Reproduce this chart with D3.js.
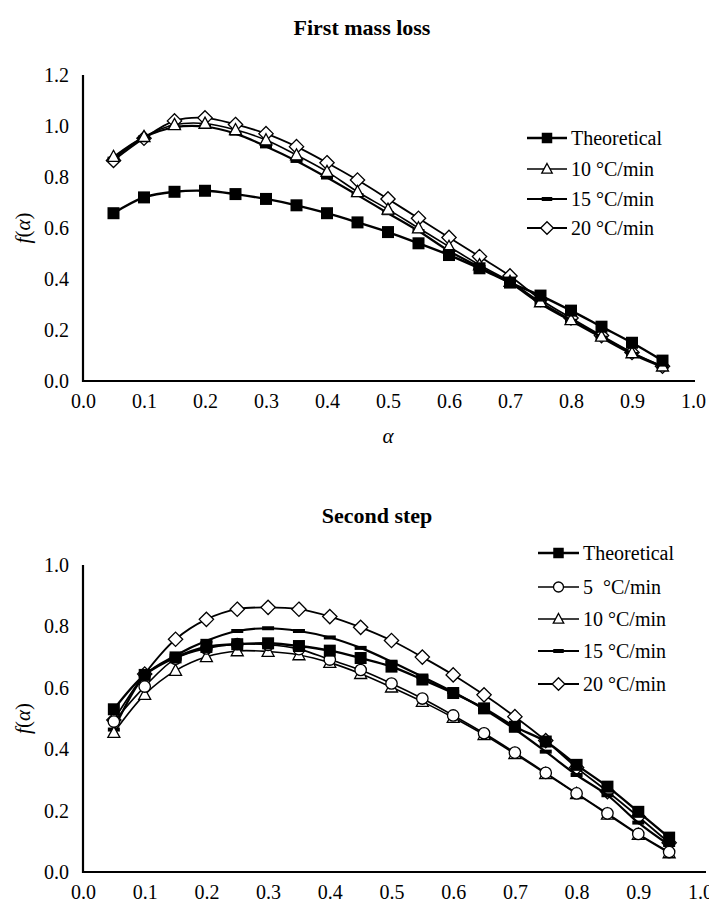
<!DOCTYPE html>
<html>
<head>
<meta charset="utf-8">
<script src="https://cdn.jsdelivr.net/npm/d3@7"></script>
<style>
  html, body { margin: 0; padding: 0; background: #fff; }
  svg { display: block; }
</style>
</head>
<body>
<svg id="fig" width="709" height="907"></svg>
<script>
const SERIF = '"Liberation Serif"';

// Conversion fraction α sampled at 0.05 steps
const alpha = [0.05, 0.10, 0.15, 0.20, 0.25, 0.30, 0.35, 0.40, 0.45, 0.50,
               0.55, 0.60, 0.65, 0.70, 0.75, 0.80, 0.85, 0.90, 0.95];

// First mass loss: f(α)
const firstTheoretical = [0.658, 0.720, 0.742, 0.746, 0.733, 0.714, 0.689, 0.658, 0.622, 0.584,
                          0.540, 0.494, 0.442, 0.386, 0.335, 0.276, 0.213, 0.150, 0.080];
const first10 = [0.880, 0.958, 1.005, 1.010, 0.985, 0.945, 0.886, 0.821, 0.742, 0.673,
                 0.600, 0.527, 0.455, 0.390, 0.310, 0.240, 0.175, 0.110, 0.058];
const first15 = [0.872, 0.955, 0.995, 0.998, 0.970, 0.920, 0.863, 0.798, 0.729, 0.658,
                 0.588, 0.510, 0.447, 0.385, 0.303, 0.236, 0.170, 0.106, 0.055];
const first20 = [0.865, 0.952, 1.020, 1.032, 1.006, 0.970, 0.919, 0.856, 0.788, 0.714,
                 0.638, 0.563, 0.488, 0.412, 0.320, 0.247, 0.178, 0.112, 0.058];

// Second step: f(α)
const secondTheoretical = [0.530, 0.642, 0.699, 0.733, 0.742, 0.745, 0.736, 0.721, 0.697, 0.669,
                           0.627, 0.583, 0.533, 0.473, 0.425, 0.349, 0.278, 0.196, 0.112];
const second5 = [0.490, 0.604, 0.695, 0.728, 0.742, 0.740, 0.726, 0.692, 0.658, 0.614,
                 0.565, 0.510, 0.452, 0.389, 0.323, 0.256, 0.191, 0.124, 0.065];
const second10 = [0.454, 0.578, 0.656, 0.701, 0.720, 0.718, 0.707, 0.682, 0.646, 0.602,
                  0.555, 0.503, 0.447, 0.385, 0.320, 0.255, 0.188, 0.122, 0.062];
const second15 = [0.464, 0.640, 0.705, 0.753, 0.785, 0.794, 0.785, 0.764, 0.730, 0.685,
                  0.636, 0.586, 0.530, 0.465, 0.392, 0.316, 0.250, 0.161, 0.088];
const second20 = [0.495, 0.645, 0.758, 0.823, 0.856, 0.862, 0.856, 0.832, 0.797, 0.754,
                  0.700, 0.642, 0.577, 0.506, 0.428, 0.340, 0.262, 0.180, 0.095];

// Axis tick values
const xTicks = [0.0, 0.1, 0.2, 0.3, 0.4, 0.5, 0.6, 0.7, 0.8, 0.9, 1.0];
const yTicksFirst = [0.0, 0.2, 0.4, 0.6, 0.8, 1.0, 1.2];
const yTicksSecond = [0.0, 0.2, 0.4, 0.6, 0.8, 1.0];

const svg = d3.select("#fig");

// Marker painter: shape keyed by name, drawn centred at (0,0)
function paintMarker(g, shape, s) {
  const h = s / 2;
  if (shape === "square") {
    g.append("rect").attr("x", -h).attr("y", -h).attr("width", s).attr("height", s)
      .attr("fill", "#000");
  } else if (shape === "triangle") {
    g.append("path").attr("d", `M0,${-h * 1.05}L${h},${h * 0.8}L${-h},${h * 0.8}Z`)
      .attr("fill", "#fff").attr("stroke", "#000").attr("stroke-width", 1.3);
  } else if (shape === "diamond") {
    g.append("path").attr("d", `M0,${-h * 1.1}L${h * 1.1},0L0,${h * 1.1}L${-h * 1.1},0Z`)
      .attr("fill", "#fff").attr("stroke", "#000").attr("stroke-width", 1.3);
  } else if (shape === "circle") {
    g.append("circle").attr("r", h * 0.95)
      .attr("fill", "#fff").attr("stroke", "#000").attr("stroke-width", 1.3);
  } else if (shape === "dash") {
    g.append("rect").attr("x", -h).attr("y", -2).attr("width", s).attr("height", 4)
      .attr("fill", "#000");
  }
}

function drawPanel(cfg) {
  const x = d3.scaleLinear().domain([0, 1]).range([cfg.left, cfg.right]);
  const y = d3.scaleLinear().domain([0, cfg.yMax]).range([cfg.bottom, cfg.top]);
  const g = svg.append("g");

  // Title
  g.append("text").attr("x", cfg.titleX).attr("y", cfg.titleY)
    .attr("text-anchor", "middle").attr("font-weight", "bold")
    .style("font-family", SERIF).style("font-size", "22px").text(cfg.title);

  // Axes (lines only, no tick marks)
  const xAxis = d3.axisBottom(x).tickValues(xTicks).tickFormat(d3.format(".1f"))
    .tickSize(0).tickPadding(13);
  const yAxis = d3.axisLeft(y).tickValues(cfg.yTicks).tickFormat(d3.format(".1f"))
    .tickSize(0).tickPadding(14);
  const gx = g.append("g").attr("transform", `translate(0,${cfg.bottom})`).call(xAxis);
  const gy = g.append("g").attr("transform", `translate(${cfg.left},0)`).call(yAxis);
  [gx, gy].forEach(a => {
    a.select(".domain").attr("stroke", "#000").attr("stroke-width", 2.2);
    a.selectAll("text").attr("fill", "#000")
      .style("font-family", SERIF).style("font-size", "20px");
  });
  gx.select(".domain").attr("d", `M${cfg.left - 1},0H${cfg.right + cfg.axisExtra}`);
  gy.select(".domain").attr("d", `M0,${cfg.top}V${cfg.bottom + 1}`);

  // Axis titles
  const yt = g.append("text")
    .attr("transform", `translate(${cfg.yTitleX},${y(cfg.yMax / 2)}) rotate(-90)`)
    .attr("text-anchor", "middle").attr("dominant-baseline", "middle")
    .style("font-family", SERIF).style("font-size", "21px");
  yt.append("tspan").style("font-style", "italic").text("f");
  yt.append("tspan").text("(");
  yt.append("tspan").style("font-style", "italic").text("α");
  yt.append("tspan").text(")");
  if (cfg.xTitle) {
    g.append("text").attr("x", (cfg.left + cfg.right) / 2).attr("y", cfg.xTitleY)
      .attr("text-anchor", "middle")
      .style("font-family", SERIF).style("font-style", "italic").style("font-size", "21px")
      .text(cfg.xTitle);
  }

  // Series: smoothed lines then markers
  const line = d3.line().x(d => x(d[0])).y(d => y(d[1])).curve(d3.curveCatmullRom.alpha(0.5));
  cfg.series.forEach(s => {
    const pts = alpha.map((a, i) => [a, s.values[i]]);
    g.append("path").attr("d", line(pts)).attr("fill", "none")
      .attr("stroke", "#000").attr("stroke-width", s.width);
    const mk = g.append("g");
    pts.forEach(p => {
      const m = mk.append("g").attr("transform", `translate(${x(p[0])},${y(p[1])})`);
      paintMarker(m, s.shape, s.size);
    });
  });

  // Legend
  const lg = g.append("g");
  cfg.legendOrder.forEach((s, i) => {
    const ly = cfg.legendRows[i];
    lg.append("line").attr("x1", cfg.legendX1).attr("x2", cfg.legendX2)
      .attr("y1", ly).attr("y2", ly).attr("stroke", "#000").attr("stroke-width", s.width);
    const m = lg.append("g").attr("transform", `translate(${(cfg.legendX1 + cfg.legendX2) / 2},${ly})`);
    paintMarker(m, s.shape, s.size - 1.5);
    lg.append("text").attr("x", cfg.legendX2 + 4).attr("y", ly)
      .attr("dominant-baseline", "central")
      .style("font-family", SERIF).style("font-size", "20px")
      .style("white-space", "pre").text(s.label);
  });
}

const sTheo1 = { label: "Theoretical", values: firstTheoretical, shape: "square", size: 12, width: 2.4 };
const s10a = { label: "10 °C/min", values: first10, shape: "triangle", size: 12, width: 1.6 };
const s15a = { label: "15 °C/min", values: first15, shape: "dash", size: 12, width: 2.2 };
const s20a = { label: "20 °C/min", values: first20, shape: "diamond", size: 13, width: 1.8 };

drawPanel({
  title: "First mass loss", titleX: 362, titleY: 35,
  left: 83, right: 693, top: 75, bottom: 381, yMax: 1.2, axisExtra: 2,
  yTicks: yTicksFirst, yTitleX: 25, xTitle: "α", xTitleY: 443,
  series: [s20a, s15a, s10a, sTheo1],
  legendOrder: [sTheo1, s10a, s15a, s20a],
  legendRows: [138, 169, 199, 228], legendX1: 527, legendX2: 567
});

const sTheo2 = { label: "Theoretical", values: secondTheoretical, shape: "square", size: 12, width: 2.4 };
const s5b = { label: "5  °C/min", values: second5, shape: "circle", size: 12, width: 1.6 };
const s10b = { label: "10 °C/min", values: second10, shape: "triangle", size: 12, width: 1.6 };
const s15b = { label: "15 °C/min", values: second15, shape: "dash", size: 12, width: 2.2 };
const s20b = { label: "20 °C/min", values: second20, shape: "diamond", size: 13, width: 1.8 };

drawPanel({
  title: "Second step", titleX: 377, titleY: 523,
  left: 83, right: 700, top: 565, bottom: 872, yMax: 1.0, axisExtra: 6,
  yTicks: yTicksSecond, yTitleX: 25, xTitle: null,
  series: [s20b, s15b, s10b, s5b, sTheo2],
  legendOrder: [sTheo2, s5b, s10b, s15b, s20b],
  legendRows: [553, 587, 619, 651, 684], legendX1: 538, legendX2: 579
});
</script>
</body>
</html>
